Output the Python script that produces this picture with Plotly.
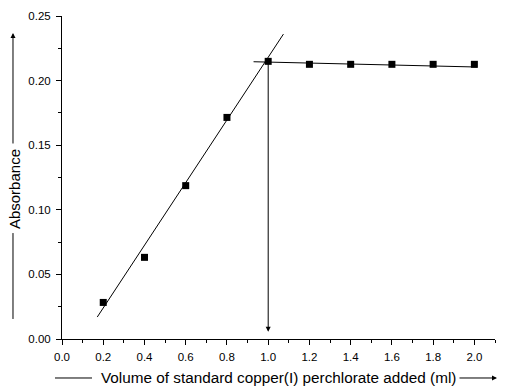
import plotly.graph_objects as go

# Data
volume_ml = [0.2, 0.4, 0.6, 0.8, 1.0, 1.2, 1.4, 1.6, 1.8, 2.0]
absorbance = [0.0283, 0.0632, 0.1187, 0.1715, 0.2149, 0.2126, 0.2126, 0.2126, 0.2126, 0.2126]

# Fitted lines (endpoints)
rise_fit_x = [0.171, 1.074]
rise_fit_y = [0.017, 0.236]
plateau_fit_x = [0.929, 2.013]
plateau_fit_y = [0.2146, 0.2105]

# Equivalence point drop line
equiv_x = 1.0
equiv_top = 0.2146
equiv_bottom = 0.0057

x_tick_vals = [0.0, 0.2, 0.4, 0.6, 0.8, 1.0, 1.2, 1.4, 1.6, 1.8, 2.0]
y_tick_vals = [0.00, 0.05, 0.10, 0.15, 0.20, 0.25]

FONT = "Liberation Sans, Arial, sans-serif"

fig = go.Figure()
fig.add_trace(go.Scatter(x=rise_fit_x, y=rise_fit_y, mode="lines",
                         line=dict(color="black", width=1), showlegend=False))
fig.add_trace(go.Scatter(x=plateau_fit_x, y=plateau_fit_y, mode="lines",
                         line=dict(color="black", width=1), showlegend=False))
fig.add_trace(go.Scatter(x=volume_ml, y=absorbance, mode="markers",
                         marker=dict(symbol="square", size=7, color="black",
                                     line=dict(width=0)),
                         showlegend=False))

annotations = [
    # drop arrow at equivalence point
    dict(x=equiv_x, y=equiv_bottom, xref="x", yref="y",
         ax=equiv_x, ay=equiv_top, axref="x", ayref="y",
         text="", showarrow=True, arrowhead=2, arrowsize=1, arrowwidth=1,
         arrowcolor="black", standoff=0, startstandoff=0),
    # y title
    dict(x=-0.111, y=0.464, xref="paper", yref="paper", text="Absorbance",
         xanchor="center", yanchor="middle",
         textangle=-90, showarrow=False, font=dict(family=FONT, size=15, color="black")),
    # y title arrow (upper)
    dict(x=-0.1132, y=0.9474, xref="paper", yref="paper", ax=0, ay=112,
         text="", showarrow=True, arrowhead=2, arrowsize=1, arrowwidth=1,
         arrowcolor="black", standoff=0, startstandoff=0),
    # x title
    dict(x=0.5, y=-0.1207, xref="paper", yref="paper",
         xanchor="center", yanchor="middle",
         text="Volume of standard copper(I) perchlorate added (ml)",
         showarrow=False, font=dict(family=FONT, size=15.3, color="black")),
    # x title arrow (right)
    dict(x=1.0046, y=-0.1207, xref="paper", yref="paper", ax=-39, ay=0,
         text="", showarrow=True, arrowhead=2, arrowsize=1, arrowwidth=1,
         arrowcolor="black", standoff=0, startstandoff=0),
]

shapes = [
    dict(type="line", xref="paper", yref="paper", x0=-0.1132, x1=-0.1132,
         y0=0.328, y1=0.062, line=dict(color="black", width=1)),
    dict(type="line", xref="paper", yref="paper", x0=-0.0162, x1=0.0693,
         y0=-0.1207, y1=-0.1207, line=dict(color="black", width=1)),
]

fig.update_layout(
    width=507, height=390,
    margin=dict(l=62, r=12, t=16, b=51),
    paper_bgcolor="white", plot_bgcolor="white",
    font=dict(family=FONT, size=11.5, color="black"),
    annotations=annotations, shapes=shapes,
    xaxis=dict(range=[0, 2.1], showline=True, linecolor="black", linewidth=1,
               showgrid=False, zeroline=False, tickvals=x_tick_vals, tickformat=".1f",
               ticks="outside", ticklen=5, tickcolor="black", tickwidth=1,
               minor=dict(dtick=0.1, ticks="outside", ticklen=3, tickcolor="black", tickwidth=1),
               ticklabelstandoff=2, automargin=False),
    yaxis=dict(range=[0, 0.25], showline=True, linecolor="black", linewidth=1,
               showgrid=False, zeroline=False, tickvals=y_tick_vals, tickformat=".2f",
               ticks="outside", ticklen=5, tickcolor="black", tickwidth=1,
               minor=dict(dtick=0.025, ticks="outside", ticklen=3, tickcolor="black", tickwidth=1),
               ticklabelstandoff=3, automargin=False),
)

fig.write_html("out.html", config={"displayModeBar": False},
               post_script="document.body.style.margin='0';")
